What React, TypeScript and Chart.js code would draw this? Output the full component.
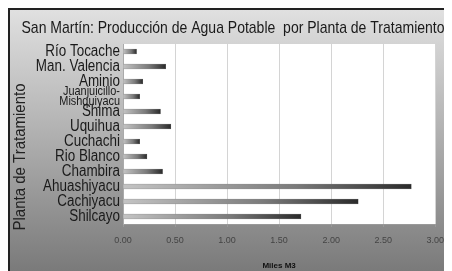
import React, { useEffect, useRef } from "react";
import { Chart, registerables } from "chart.js";

Chart.register(...registerables);

const categories = [
  "Río Tocache",
  "Man. Valencia",
  "Aminio",
  ["Juanjuicillo-", "Mishquiyacu"],
  "Shima",
  "Uquihua",
  "Cuchachi",
  "Rio Blanco",
  "Chambira",
  "Ahuashiyacu",
  "Cachiyacu",
  "Shilcayo",
];
const production = [0.13, 0.41, 0.19, 0.16, 0.36, 0.46, 0.16, 0.23, 0.38, 2.77, 2.26, 1.71];
const xTickLabels = ["0.00", "0.50", "1.00", "1.50", "2.00", "2.50", "3.00"];
const chartTitle = "San Martín: Producción de Agua Potable  por Planta de Tratamiento";
const xTitle = "Miles M3";
const yTitle = "Planta de Tratamiento";

const SANS = "'Liberation Sans', Arial, sans-serif";
const SQUEEZE = 0.84;

const decorPlugin = {
  id: "decor",
  beforeDraw(chart: any) {
    const { ctx, chartArea } = chart;
    ctx.save();
    ctx.fillStyle = "#ffffff";
    ctx.fillRect(chartArea.left, chartArea.top, chartArea.right - chartArea.left, chartArea.bottom - chartArea.top);
    ctx.restore();
  },
  afterDraw(chart: any) {
    const { ctx, chartArea } = chart;
    const yScale = chart.scales.y;
    ctx.save();
    ctx.fillStyle = "#1a1a1a";
    ctx.font = `17px ${SANS}`;
    ctx.textAlign = "center";
    ctx.textBaseline = "middle";
    ctx.fillText(chartTitle, 223, 18, 423);

    // category labels (condensed)
    ctx.textAlign = "right";
    categories.forEach((lab, i) => {
      const y = yScale.getPixelForTick(i);
      const x = chartArea.left - 3;
      ctx.save();
      ctx.translate(x, y);
      ctx.scale(SQUEEZE, 1);
      if (Array.isArray(lab)) {
        ctx.font = `13px ${SANS}`;
        ctx.fillText(lab[0], 0, -5.5);
        ctx.fillText(lab[1], 0, 5);
      } else {
        ctx.font = `16px ${SANS}`;
        ctx.fillText(lab, 0, 0.5);
      }
      ctx.restore();
    });

    // y axis title
    ctx.save();
    ctx.translate(11, 147);
    ctx.rotate(-Math.PI / 2);
    ctx.textAlign = "center";
    ctx.font = `16px ${SANS}`;
    ctx.fillStyle = "#222";
    ctx.fillText(yTitle, 0, 0, 147);
    ctx.restore();
    ctx.restore();
  },
};

export default function App() {
  const ref = useRef<HTMLCanvasElement>(null);
  useEffect(() => {
    if (!ref.current) return;
    const chart = new Chart(ref.current, {
      type: "bar",
      data: {
        labels: categories as any,
        datasets: [
          {
            data: production,
            barThickness: 5,
            borderWidth: 0.5,
            borderColor: "#666",
            backgroundColor: (c: any) => {
              const ch = c.chart;
              const area = ch.chartArea;
              if (!area) return "#666";
              const x0 = ch.scales.x.getPixelForValue(0);
              const x1 = ch.scales.x.getPixelForValue(c.raw ?? 0.01);
              const g = ch.ctx.createLinearGradient(x0, 0, Math.max(x1, x0 + 1), 0);
              g.addColorStop(0, "#c4c4c4");
              g.addColorStop(0.6, "#7a7a7a");
              g.addColorStop(1, "#2a2a2a");
              return g;
            },
          },
        ],
      },
      options: {
        indexAxis: "y",
        animation: false,
        responsive: false,
        maintainAspectRatio: false,
        layout: { padding: { top: 34, right: 7, left: 0, bottom: 0 } },
        plugins: { legend: { display: false }, tooltip: { enabled: false }, title: { display: false } },
        scales: {
          x: {
            min: 0,
            max: 3,
            ticks: {
              stepSize: 0.5,
              color: "#444",
              font: { family: SANS, size: 9 },
              padding: 8,
              maxRotation: 0,
              callback: (_v: any, i: number) => xTickLabels[i],
            },
            grid: { color: "#d4d4d4", tickColor: "#999", tickLength: 3 },
            border: { color: "#999" },
            title: {
              display: true,
              text: xTitle,
              color: "#111",
              font: { family: SANS, size: 8, weight: "bold" },
              padding: { top: 6, bottom: 0 },
            },
            afterFit: (s: any) => {
              s.height = 47;
            },
          },
          y: {
            grid: { display: false },
            border: { color: "#aaa" },
            ticks: { display: false, autoSkip: false },
            afterFit: (s: any) => {
              s.width = 113;
            },
          },
        },
      },
      plugins: [decorPlugin],
    });
    return () => chart.destroy();
  }, []);

  return (
    <div
      style={{
        width: 442,
        height: 261,
        borderLeft: "2px solid #222",
        borderTop: "2px solid #222",
        background: "linear-gradient(to bottom, #e0e0e0 0%, #b8b8b8 40%, #7a7a7a 100%)",
        overflow: "hidden",
      }}
    >
      <canvas ref={ref} width={442} height={261} style={{ display: "block" }} />
    </div>
  );
}
